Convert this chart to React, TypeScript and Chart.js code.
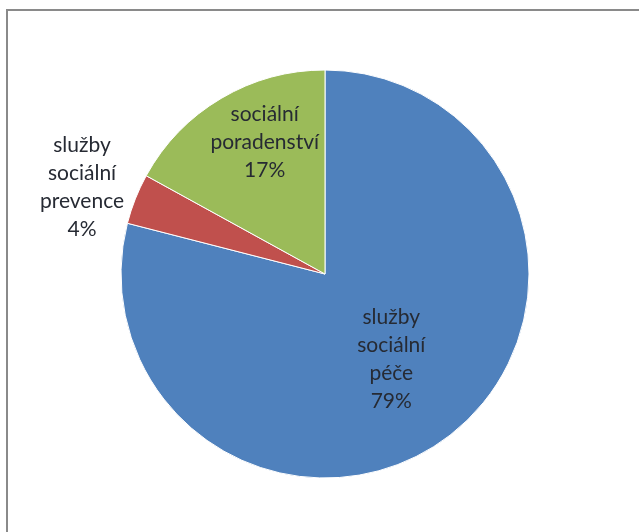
import React, { useEffect, useRef } from "react";
import { Chart, registerables } from "chart.js";

Chart.register(...registerables);

// ---- data ----
const categories: string[][] = [
  ["služby", "sociální", "péče"],
  ["služby", "sociální", "prevence"],
  ["sociální", "poradenství"],
];
const values: number[] = [79, 4, 17];
const colors: string[] = ["#4f81bd", "#c0504d", "#9bbb59"];

// ---- label layout (fraction of radius, angle shift in degrees) ----
const labelRadius: number[] = [0.53, 1.265, 0.71];
const labelShift: number[] = [0, -1.9, 6];

const FONT = "Lato, 'Open Sans', sans-serif";

const framePlugin = {
  id: "frame",
  beforeDraw(chart: any) {
    const ctx = chart.ctx;
    ctx.save();
    ctx.fillStyle = "#ffffff";
    ctx.fillRect(0, 0, chart.width, chart.height);
    ctx.strokeStyle = "#8a8a8a";
    ctx.lineWidth = 2;
    ctx.strokeRect(7, 10, 800, 700);
    ctx.restore();
  },
};

const labelPlugin = {
  id: "sliceLabels",
  afterDatasetsDraw(chart: any) {
    const ctx = chart.ctx;
    const meta = chart.getDatasetMeta(0);
    const data = chart.data.datasets[0].data as number[];
    const total = data.reduce((a, b) => a + b, 0);
    ctx.save();
    ctx.font = `21px ${FONT}`;
    ctx.fillStyle = "#262a33";
    ctx.textAlign = "center";
    ctx.textBaseline = "middle";
    const lh = 28;
    meta.data.forEach((arc: any, i: number) => {
      const p = arc.getProps(["x", "y", "startAngle", "endAngle", "outerRadius"], true);
      const mid = (p.startAngle + p.endAngle) / 2 + (labelShift[i] * Math.PI) / 180;
      const r = p.outerRadius * labelRadius[i];
      const cx = p.x + Math.cos(mid) * r;
      const cy = p.y + Math.sin(mid) * r;
      const lines = [...categories[i], Math.round((data[i] / total) * 100) + "%"];
      const start = cy - ((lines.length - 1) * lh) / 2;
      lines.forEach((t, k) => ctx.fillText(t, cx, start + k * lh));
    });
    ctx.restore();
  },
};

export default function App() {
  const ref = useRef<HTMLCanvasElement | null>(null);
  useEffect(() => {
    if (!ref.current) return;
    const chart = new Chart(ref.current, {
      type: "pie",
      data: {
        labels: categories.map((c) => c.join(" ")),
        datasets: [
          {
            data: values,
            backgroundColor: colors,
            borderColor: "#ffffff",
            borderWidth: 1,
            radius: 204,
          } as any,
        ],
      },
      options: {
        animation: false,
        responsive: false,
        maintainAspectRatio: false,
        layout: { padding: { left: 11, right: 0, top: 16, bottom: 0 } },
        plugins: {
          legend: { display: false },
          tooltip: { enabled: false },
        },
      },
      plugins: [framePlugin, labelPlugin],
    });
    return () => chart.destroy();
  }, []);
  return (
    <div style={{ position: "fixed", left: 0, top: 0, width: 639, height: 532, overflow: "hidden", background: "#fff" }}>
      <canvas ref={ref} width={639} height={532} style={{ width: 639, height: 532, display: "block" }} />
    </div>
  );
}
